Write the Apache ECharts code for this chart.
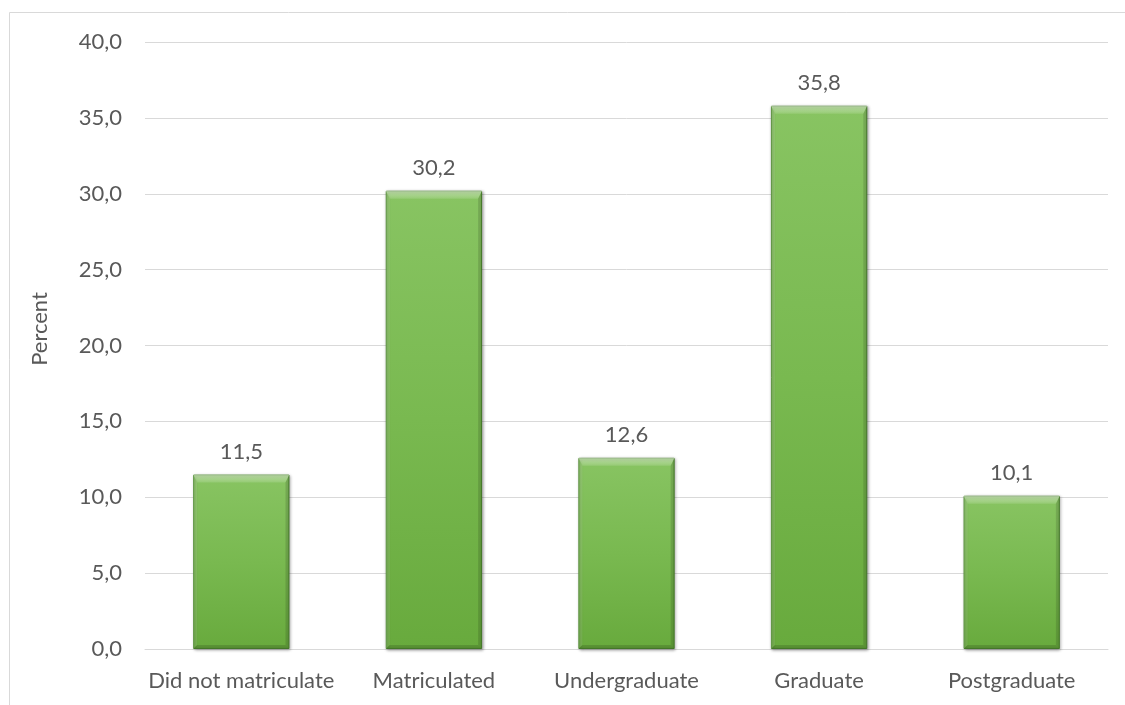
<!DOCTYPE html>
<html>
<head>
<meta charset="utf-8">
<script src="https://cdn.jsdelivr.net/npm/echarts@6/dist/echarts.min.js"></script>
<style>
html,body{margin:0;padding:0;background:#fff;}
#c{width:1125px;height:705px;}
</style>
</head>
<body>
<div id="c"></div>
<script>
const categories = ["Did not matriculate", "Matriculated", "Undergraduate", "Graduate", "Postgraduate"];
const values = [11.5, 30.2, 12.6, 35.8, 10.1];
const yTicks = [0, 5, 10, 15, 20, 25, 30, 35, 40];
const yAxisTitle = "Percent";

const fmt = v => v.toFixed(1).replace('.', ',');
const FONT = 'Lato';
const FS = 22;
const TXT = '#595959';

// bevel overlay drawn on top of each bar, positioned via the axis scales
function renderBevel(params, api) {
  const idx = api.value(0);
  const top = api.coord([idx, api.value(1)]);
  const base = api.coord([idx, 0]);
  const w = api.size([1, 0])[0] * 0.5;
  const x0 = top[0] - w / 2, x1 = top[0] + w / 2;
  const y0 = top[1], yb = base[1];
  const bt = 8, bs = 4, bb = 4;
  return {
    type: 'group',
    children: [
      {type: 'polygon', shape: {points: [[x0, y0], [x1, y0], [x1 - bs, y0 + bt], [x0 + bs, y0 + bt]]},
       style: {fill: new echarts.graphic.LinearGradient(0, 0, 0, 1, [
         {offset: 0, color: 'rgba(255,255,255,0.45)'}, {offset: 1, color: 'rgba(255,255,255,0.12)'}])}},
      {type: 'polygon', shape: {points: [[x0, y0], [x0 + bs, y0 + bt], [x0 + bs, yb - bb], [x0, yb]]},
       style: {fill: 'rgba(255,255,255,0.10)'}},
      {type: 'polygon', shape: {points: [[x1, y0], [x1 - bs, y0 + bt], [x1 - bs, yb - bb], [x1, yb]]},
       style: {fill: 'rgba(0,0,0,0.12)'}},
      {type: 'polygon', shape: {points: [[x0, yb], [x0 + bs, yb - bb], [x1 - bs, yb - bb], [x1, yb]]},
       style: {fill: 'rgba(0,0,0,0.14)'}}
    ]
  };
}

const chart = echarts.init(document.getElementById('c'));
chart.setOption({
  animation: false,
  backgroundColor: '#fff',
  grid: {left: 145, right: 17, top: 42, bottom: 56},
  graphic: [
    {type: 'rect', shape: {x: 9.5, y: 12.5, width: 1300, height: 900},
     style: {fill: 'none', stroke: '#d9d9d9', lineWidth: 1}},
    {type: 'text', x: 40, y: 329, rotation: Math.PI / 2,
     style: {text: yAxisTitle, fill: TXT, font: FS + 'px ' + FONT, textAlign: 'center', textVerticalAlign: 'middle'}}
  ],
  xAxis: {
    type: 'category', data: categories,
    axisLine: {lineStyle: {color: '#d9d9d9', width: 1}},
    axisTick: {show: false},
    axisLabel: {color: TXT, fontFamily: FONT, fontSize: FS, margin: 21, interval: 0}
  },
  yAxis: {
    type: 'value', min: yTicks[0], max: yTicks[yTicks.length - 1], interval: yTicks[1] - yTicks[0],
    axisLine: {show: false}, axisTick: {show: false},
    splitLine: {lineStyle: {color: '#d9d9d9', width: 1}},
    axisLabel: {color: TXT, fontFamily: FONT, fontSize: FS, margin: 23, formatter: v => fmt(v)}
  },
  series: [{
    type: 'bar', data: values, barWidth: '50%',
    itemStyle: {
      color: new echarts.graphic.LinearGradient(0, 0, 0, 1, [
        {offset: 0, color: '#88c462'}, {offset: 0.5, color: '#79b950'}, {offset: 1, color: '#68aa3d'}
      ]),
      borderColor: '#4f8a30', borderWidth: 1,
      shadowColor: 'rgba(0,0,0,0.35)', shadowBlur: 3, shadowOffsetX: 1, shadowOffsetY: 1
    },
    label: {show: true, position: 'top', distance: 12, color: TXT, fontFamily: FONT, fontSize: FS, formatter: p => fmt(p.value)}
  }, {
    type: 'custom', renderItem: renderBevel, silent: true, z: 3,
    data: values.map((v, i) => [i, v])
  }]
});
</script>
</body>
</html>
